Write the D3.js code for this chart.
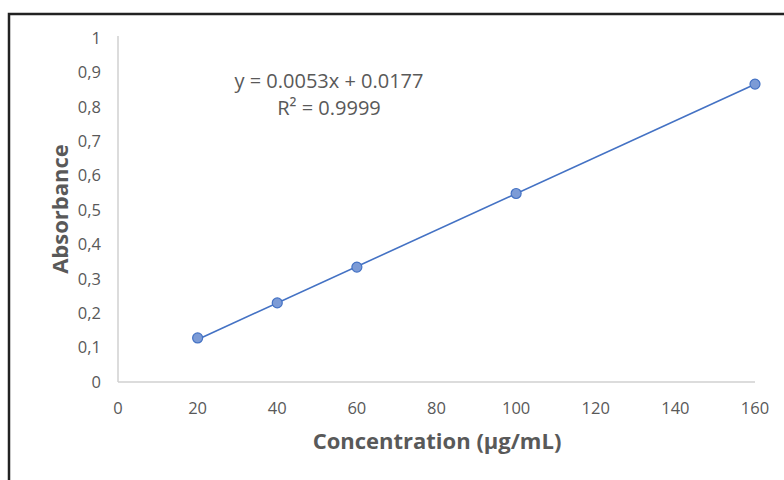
<!DOCTYPE html>
<html>
<head>
<meta charset="utf-8">
<script src="https://cdn.jsdelivr.net/npm/d3@7"></script>
<style>
  body { margin: 0; background: #fff; }
  text { font-family: "Open Sans", Lato, sans-serif; fill: #595959; }
</style>
</head>
<body>
<div id="chart"></div>
<script>
// data
let concentrations = [20, 40, 60, 100, 160];
let absorbances = [0.128, 0.230, 0.334, 0.548, 0.866];
let xTicks = [0, 20, 40, 60, 80, 100, 120, 140, 160];
let yTicks = [0, 0.1, 0.2, 0.3, 0.4, 0.5, 0.6, 0.7, 0.8, 0.9, 1];
let slope = 0.0053;
let intercept = 0.0177;
let eqText = "y = 0.0053x + 0.0177";
let r2Text = "R² = 0.9999";

let width = 784, height = 480;

let svg = d3.select("#chart")
    .append("svg")
    .attr("width", width)
    .attr("height", height);

// outer frame (runs off the right/bottom edges)
svg.append("rect")
    .attr("x", 9).attr("y", 14)
    .attr("width", 800).attr("height", 500)
    .attr("fill", "none")
    .attr("stroke", "#222")
    .attr("stroke-width", 2.5);

let x = d3.scaleLinear().domain([0, 160]).range([118, 755]);
let y = d3.scaleLinear().domain([0, 1]).range([382, 38]);

// axis lines
svg.append("line")
    .attr("x1", x(0)).attr("x2", x(0))
    .attr("y1", y(1) - 2).attr("y2", y(0))
    .attr("stroke", "#d0d0d0").attr("stroke-width", 1.5);
svg.append("line")
    .attr("x1", x(0)).attr("x2", x(160))
    .attr("y1", y(0)).attr("y2", y(0))
    .attr("stroke", "#d0d0d0").attr("stroke-width", 1.5);

// y tick labels, comma decimals
svg.append("g").selectAll("text")
    .data(yTicks)
    .enter()
    .append("text")
    .attr("x", 101)
    .attr("y", d => y(d))
    .attr("dy", "0.35em")
    .style("text-anchor", "end")
    .style("font-size", "16.5px")
    .text(d => String(+d.toFixed(1)).replace(".", ","));

// x tick labels
svg.append("g").selectAll("text")
    .data(xTicks)
    .enter()
    .append("text")
    .attr("x", d => x(d))
    .attr("y", 408)
    .attr("dy", "0.35em")
    .style("text-anchor", "middle")
    .style("font-size", "16.5px")
    .text(d => d);

// trendline
let x0 = d3.min(concentrations), x1 = d3.max(concentrations);
svg.append("line")
    .attr("x1", x(x0)).attr("y1", y(slope * x0 + intercept))
    .attr("x2", x(x1)).attr("y2", y(slope * x1 + intercept))
    .attr("stroke", "#4472C4")
    .attr("stroke-width", 1.6);

// points
svg.append("g").selectAll("circle")
    .data(concentrations)
    .enter()
    .append("circle")
    .attr("cx", d => x(d))
    .attr("cy", (d, i) => y(absorbances[i]))
    .attr("r", 5)
    .attr("fill", "#7c9bd6")
    .attr("stroke", "#4472C4")
    .attr("stroke-width", 1.2);

// equation
svg.append("text")
    .attr("x", 329).attr("y", 81)
    .attr("dy", "0.35em")
    .style("text-anchor", "middle")
    .style("font-size", "20px")
    .text(eqText);
svg.append("text")
    .attr("x", 329).attr("y", 108)
    .attr("dy", "0.35em")
    .style("text-anchor", "middle")
    .style("font-size", "20px")
    .text(r2Text);

// axis titles
svg.append("text")
    .attr("transform", "translate(437,441)")
    .attr("dy", "0.35em")
    .style("text-anchor", "middle")
    .style("font-size", "22px")
    .style("font-weight", "bold")
    .text("Concentration (µg/mL)");

svg.append("text")
    .attr("transform", "translate(60,209) rotate(-90)")
    .attr("dy", "0.35em")
    .style("text-anchor", "middle")
    .style("font-size", "22px")
    .style("font-weight", "bold")
    .text("Absorbance");
</script>
</body>
</html>
